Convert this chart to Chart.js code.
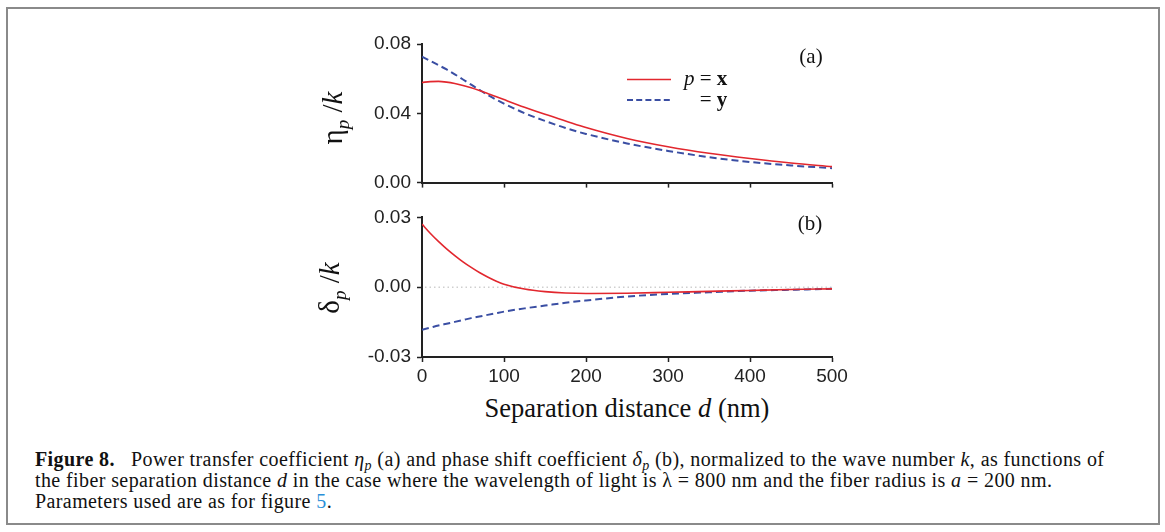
<!DOCTYPE html>
<html>
<head>
<meta charset="utf-8">
<script src="https://cdn.jsdelivr.net/npm/chart.js@4.4.1/dist/chart.umd.min.js"></script>
<style>
html,body{margin:0;padding:0;background:#fff;}
#wrap{position:relative;width:1165px;height:532px;overflow:hidden;background:#fff;}
canvas{position:absolute;left:0;}
#frame{position:absolute;left:6px;top:7px;width:1154px;height:518px;border:2px solid #8a8a8a;box-sizing:border-box;}
.serif{font-family:"Liberation Serif","Times New Roman",serif;color:#111;white-space:nowrap;position:absolute;}
.ytitle{font-size:29px;line-height:29px;transform:translate(-50%,-50%) rotate(-90deg);}
.ytitle sub{font-size:0.66em;font-style:italic;vertical-align:-0.38em;line-height:0;}
.cap{font-size:20px;line-height:21px;left:35px;letter-spacing:0.4px;}
.cap sub{font-size:0.7em;vertical-align:-0.25em;line-height:0;}
</style>
</head>
<body>
<div id="wrap">
  <div id="frame"></div>
  <canvas id="top" width="1165" height="200" style="top:0"></canvas>
  <canvas id="bot" width="1165" height="190" style="top:200px"></canvas>

  <div class="serif ytitle" style="left:332px;top:118px;">η<sub>p</sub> /<i>k</i></div>
  <div class="serif ytitle" style="left:329px;top:288px;">δ<sub>p</sub> /<i>k</i></div>

  <div class="serif" style="left:811px;top:56px;font-size:21px;line-height:21px;transform:translate(-50%,-50%);">(a)</div>
  <div class="serif" style="left:810px;top:223px;font-size:21px;line-height:21px;transform:translate(-50%,-50%);">(b)</div>

  <svg style="position:absolute;left:626px;top:72px;" width="46" height="34">
    <line id="legRed" x1="1" y1="7.5" x2="45" y2="7.5" stroke-width="1.6"/>
    <line id="legBlue" x1="1" y1="28" x2="45" y2="28" stroke-width="2" stroke-dasharray="6 3.2"/>
  </svg>
  <div class="serif" style="left:684px;top:68px;font-size:21px;line-height:21px;"><i>p</i> = <b>x</b></div>
  <div class="serif" style="left:684px;top:89px;font-size:21px;line-height:21px;"><i style="visibility:hidden">p</i> = <b>y</b></div>

  <div class="serif" style="left:627px;top:395px;font-size:26.5px;line-height:26.5px;transform:translateX(-50%);">Separation distance <i>d</i> (nm)</div>

  <div class="serif cap" style="top:449px;"><b>Figure 8.</b>&nbsp;&nbsp; Power transfer coefficient <i>η</i><sub><i>p</i></sub> (a) and phase shift coefficient <i>δ</i><sub><i>p</i></sub> (b), normalized to the wave number <i>k</i>, as functions of</div>
  <div class="serif cap" style="top:470px;">the fiber separation distance <i>d</i> in the case where the wavelength of light is λ = 800 nm and the fiber radius is <i>a</i> = 200 nm.</div>
  <div class="serif cap" style="top:491px;">Parameters used are as for figure <span style="color:#2a8fd8">5</span>.</div>
</div>

<script>
// ---- data ----
const distances = [0,10,20,30,40,50,60,70,80,90,100,125,150,175,200,250,300,350,400,450,500];
const etaX   = [0.0578,0.0583,0.0584,0.0580,0.0572,0.0561,0.0547,0.0531,0.0514,0.0497,0.0479,0.0435,0.0394,0.0356,0.0318,0.0255,0.0207,0.0169,0.0139,0.0113,0.0092];
const etaY   = [0.0727,0.0703,0.0678,0.0653,0.0625,0.0595,0.0565,0.0535,0.0506,0.0480,0.0456,0.0401,0.0356,0.0315,0.0281,0.0226,0.0183,0.0147,0.0119,0.0099,0.0083];
const deltaX = [0.0271,0.0232,0.0197,0.0165,0.0136,0.0109,0.0085,0.0063,0.0044,0.0027,0.0013,-0.0008,-0.0019,-0.0025,-0.0027,-0.0026,-0.0022,-0.0018,-0.0014,-0.0010,-0.0007];
const deltaY = [-0.0183,-0.0174,-0.0165,-0.0157,-0.0149,-0.0141,-0.0133,-0.0126,-0.0119,-0.0112,-0.0105,-0.0091,-0.0079,-0.0067,-0.0057,-0.0040,-0.0029,-0.0022,-0.0015,-0.0011,-0.0007];
const xTicks = [0,100,200,300,400,500];
const etaTicks = [0,0.04,0.08];
const deltaTicks = [-0.03,0,0.03];

const RED = '#e2272e';
const BLUE = '#3a4ea3';
document.getElementById('legRed').setAttribute('stroke', RED);
document.getElementById('legBlue').setAttribute('stroke', BLUE);

const zeroPlugin = {
  id:'zeroLine',
  beforeDatasetsDraw(c){
    const y = c.scales.y.getPixelForValue(0);
    const a = c.chartArea, ctx = c.ctx;
    ctx.save();
    ctx.strokeStyle = '#cfcfcf';
    ctx.lineWidth = 1.5;
    ctx.setLineDash([1.5,3]);
    ctx.beginPath();
    ctx.moveTo(a.left+3, y);
    ctx.lineTo(a.right, y);
    ctx.stroke();
    ctx.restore();
  }
};

const tickFont = {family:'"Liberation Sans", Arial, sans-serif', size:19};

function build(id, sA, sB, yTicks, showX, pad, xH, extra){
  const pts = arr => distances.map((d,i)=>({x:d, y:arr[i]}));
  return new Chart(document.getElementById(id), {
    type:'line',
    data:{datasets:[
      {data:pts(sA), borderColor:RED, borderWidth:1.6, pointRadius:0, cubicInterpolationMode:'monotone', fill:false},
      {data:pts(sB), borderColor:BLUE, borderWidth:2, borderDash:[7,4], pointRadius:0, cubicInterpolationMode:'monotone', fill:false}
    ]},
    options:{
      responsive:false, animation:false, devicePixelRatio:1,
      layout:{padding:pad},
      plugins:{legend:{display:false}, tooltip:{enabled:false}},
      scales:{
        x:{
          type:'linear', min:xTicks[0], max:xTicks[xTicks.length-1],
          afterBuildTicks:s=>{ s.ticks = xTicks.map(v=>({value:v})); },
          afterFit:s=>{ s.height = xH; },
          grid:{display:true, drawOnChartArea:false, drawTicks:true, tickLength:5, tickColor:'#222', tickWidth:1.5},
          border:{display:true, color:'#222', width:2},
          ticks:{display:showX, padding:3, color:'#222', font:tickFont, maxRotation:0, autoSkip:false, callback:v=>String(v)}
        },
        y:{
          type:'linear', min:yTicks[0], max:yTicks[yTicks.length-1],
          afterBuildTicks:s=>{ s.ticks = yTicks.map(v=>({value:v})); },
          afterFit:s=>{ s.width = 60; },
          grid:{display:true, drawOnChartArea:false, drawTicks:true, tickLength:5, tickColor:'#222', tickWidth:1.5},
          border:{display:true, color:'#222', width:2},
          ticks:{padding:6, color:'#222', font:tickFont, callback:v=>Number(v).toFixed(2)}
        }
      }
    },
    plugins: extra
  });
}

build('top', etaX, etaY, etaTicks, false, {left:362, right:333, top:44, bottom:3}, 8, []);
build('bot', deltaX, deltaY, deltaTicks, true, {left:362, right:333, top:11, bottom:3}, 30, [zeroPlugin]);
</script>
</body>
</html>
